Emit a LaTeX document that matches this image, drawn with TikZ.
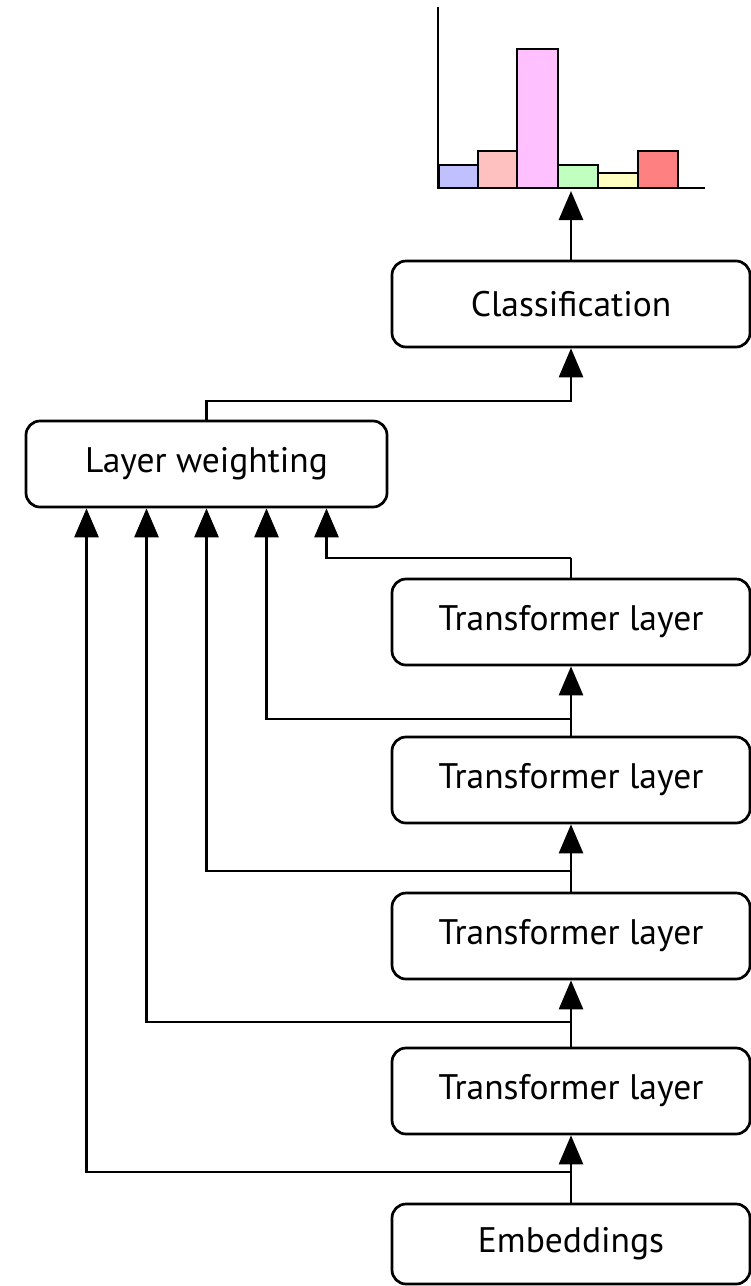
\documentclass[tikz,border=0pt]{standalone}
\usepackage{fontspec}
\setmainfont{PT Sans}
\usetikzlibrary{arrows.meta}
\definecolor{cblue}{RGB}{192,192,255}
\definecolor{cpink}{RGB}{255,192,192}
\definecolor{cmag}{RGB}{255,192,255}
\definecolor{cgreen}{RGB}{192,255,192}
\definecolor{cyellow}{RGB}{255,255,192}
\definecolor{cred}{RGB}{255,128,128}
\tikzset{
  box/.style={draw, line width=2.7pt, rounded corners=14pt, minimum width=358pt, minimum height=86pt, inner sep=0pt, font=\fontsize{35.5}{40}\selectfont},
  arr/.style={line width=2.7pt, -{Triangle[length=29pt,width=24pt]}},
  ln/.style={line width=2.7pt},
  bar/.style={draw, line width=2.7pt}
}
\begin{document}
\begin{tikzpicture}[x=1pt,y=-1pt]
\useasboundingbox (0,0) rectangle (751,1286);
% histogram
\draw[bar,fill=cblue] (439,188) rectangle (478,165);
\draw[bar,fill=cpink] (478,188) rectangle (517,151);
\draw[bar,fill=cmag] (517,188) rectangle (558,49);
\draw[bar,fill=cgreen] (558,188) rectangle (598,165);
\draw[bar,fill=cyellow] (598,188) rectangle (638,173);
\draw[bar,fill=cred] (638,188) rectangle (678,151);
\draw[ln] (438,7) -- (438,188) -- (705,188);
\coordinate (hb) at (571,191);
% nodes
\node[box] (cls) at (571,304) {Classification};
\node[box, minimum width=361pt] (lw) at (206.5,464) {Layer weighting};
\node[box] (tl1) at (571,622) {Transformer layer};
\node[box] (tl2) at (571,780) {Transformer layer};
\node[box] (tl3) at (571,936) {Transformer layer};
\node[box] (tl4) at (571,1091) {Transformer layer};
\node[box, minimum height=80pt] (emb) at (571,1244) {Embeddings};
% main chain
\draw[arr] (cls.north) -- (hb);
\coordinate (lc) at (571,401);
\draw[arr] (lw.north) |- (lc) -- (cls.south);
\draw[arr] (emb.north) -- (tl4.south);
\draw[arr] (tl4.north) -- (tl3.south);
\draw[arr] (tl3.north) -- (tl2.south);
\draw[arr] (tl2.north) -- (tl1.south);
% branches
\coordinate (b1) at (571,1172);
\coordinate (b2) at (571,1022);
\coordinate (b3) at (571,871);
\coordinate (b4) at (571,719);
\coordinate (b5) at (571,558);
\draw[arr] (b1) -| ([xshift=-120pt]lw.south);
\draw[arr] (b2) -| ([xshift=-60pt]lw.south);
\draw[arr] (b3) -| (lw.south);
\draw[arr] (b4) -| ([xshift=60pt]lw.south);
\draw[ln] (tl1.north) -- (b5);
\draw[arr] (b5) -| ([xshift=120pt]lw.south);
\end{tikzpicture}
\end{document}
